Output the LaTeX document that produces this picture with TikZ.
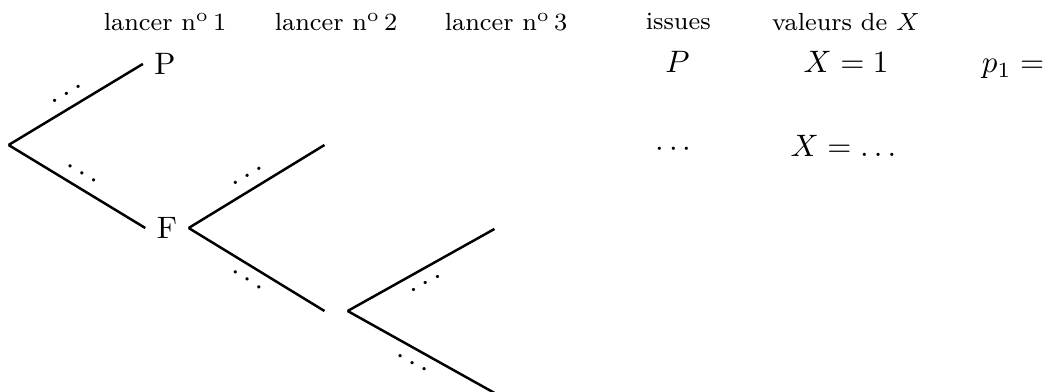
\documentclass[tikz,border=0pt]{standalone}
\usepackage{amsmath,amssymb}
\usepackage{tikz}

\begin{document}
\begin{tikzpicture}[thick, every node/.style={font=\normalsize},
  head/.style={font=\footnotesize},
  dup/.style={midway, sloped, above=3.5pt, inner sep=0pt},
  ddown/.style={midway, sloped, below=3.5pt, inner sep=0pt}]
\useasboundingbox (0,0) rectangle (11.893,4.444);
% arbre
\node (R) at (-0.034,2.800) {};
\node (P) at (1.871,3.719) {P};
\node (F) at (1.893,1.859) {F};
\node (FP) at (3.810,2.800) {};
\node (FF) at (3.810,0.918) {};
\node (FFP) at (5.737,1.848) {};
\node (FFF) at (5.737,-0.011) {};
\draw (R.east) -- (P.west) node[dup] {$\dots$};
\draw (R.east) -- (F.west) node[dup] {$\dots$};
\draw (F.east) -- (FP.west) node[dup] {$\dots$};
\draw (F.east) -- (FF.west) node[ddown] {$\dots$};
\draw (FF.east) -- (FFP.west) node[ddown] {$\dots$};
\draw (FF.east) -- (FFF.west) node[ddown] {$\dots$};
% en-tetes
\node[head] (h1) at (1.871,4.195) {lancer n\textsuperscript{o}\,1};
\node[head] (h2) at (3.810,4.195) {lancer n\textsuperscript{o}\,2};
\node[head] (h3) at (5.737,4.195) {lancer n\textsuperscript{o}\,3};
\node[head] (hi) at (7.690,4.195) {issues};
\node[head] (hv) at (9.590,4.195) {valeurs de $X$};
% issues et valeurs
\node[anchor=base] (i1) at (7.680,3.617) {$P$};
\node[anchor=base] (v1) at (9.592,3.617) {$X=1$};
\node[anchor=base] (p1) at (11.485,3.617) {$p_1=$};
\node[anchor=base] (i2) at (7.664,2.664) {$\cdots$};
\node[anchor=base] (v2) at (9.592,2.664) {$X=\dots$};
\end{tikzpicture}
\end{document}
